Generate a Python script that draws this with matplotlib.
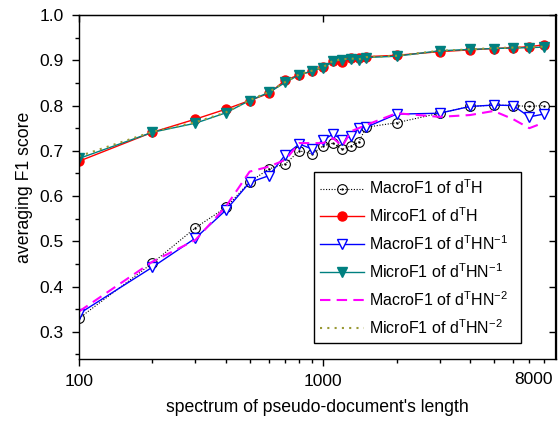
import numpy as np
import matplotlib
matplotlib.use("Agg")
import matplotlib.pyplot as plt
import matplotlib.transforms as mtransforms
from matplotlib.path import Path

plt.rcParams['font.family'] = ['Liberation Sans', 'DejaVu Sans']
plt.rcParams['mathtext.fontset'] = 'custom'
plt.rcParams['mathtext.rm'] = 'Liberation Sans'

# pseudo-document lengths
lengths = [100, 200, 300, 400, 500, 600, 700, 800, 900, 1000, 1100, 1200,
           1300, 1400, 1500, 2000, 3000, 4000, 5000, 6000, 7000, 8000]

macro_dth = [0.330, 0.452, 0.530, 0.575, 0.631, 0.660, 0.671, 0.700, 0.693, 0.711, 0.717,
             0.703, 0.711, 0.719, 0.752, 0.762, 0.783, 0.798, 0.801, 0.800, 0.798, 0.800]
micro_dth = [0.677, 0.741, 0.770, 0.792, 0.811, 0.827, 0.856, 0.868, 0.876, 0.886, 0.899,
             0.897, 0.904, 0.904, 0.908, 0.911, 0.919, 0.923, 0.926, 0.928, 0.930, 0.934]
macro_n1 = [0.340, 0.443, 0.507, 0.569, 0.630, 0.645, 0.691, 0.715, 0.704, 0.724, 0.737,
            0.724, 0.733, 0.750, 0.752, 0.781, 0.783, 0.798, 0.801, 0.800, 0.775, 0.781]
micro_n1 = [0.683, 0.741, 0.761, 0.784, 0.811, 0.829, 0.851, 0.868, 0.876, 0.884, 0.898,
            0.901, 0.903, 0.901, 0.906, 0.909, 0.921, 0.924, 0.926, 0.927, 0.928, 0.929]
macro_n2 = [0.345, 0.455, 0.503, 0.577, 0.654, 0.665, 0.680, 0.717, 0.717, 0.717, 0.728,
            0.710, 0.743, 0.750, 0.757, 0.783, 0.775, 0.779, 0.788, 0.770, 0.750, 0.762]
micro_n2 = [0.688, 0.742, 0.763, 0.785, 0.812, 0.830, 0.852, 0.869, 0.877, 0.885, 0.899,
            0.902, 0.904, 0.902, 0.907, 0.910, 0.921, 0.924, 0.927, 0.928, 0.929, 0.930]

# circle with a dot in the middle, like the Origin marker
dot_circle = Path.make_compound_path(Path.unit_circle(), Path.circle(radius=0.12))

fig = plt.figure(figsize=(5.58, 4.23), dpi=100)
ax = fig.add_axes([0.1416, 0.1513, 0.8548, 0.8132])

ax.plot(lengths, macro_dth, color='black', ls=(0, (1, 1.5)), lw=0.8,
        marker=dot_circle, ms=7, mfc='none', mec='black', mew=0.8,
        label=r'MacroF1 of d$^{\mathrm{T}}$H')
ax.plot(lengths, micro_dth, color='#ff0000', ls='-', lw=1.0,
        marker='o', ms=6.5, mfc='#ff0000', mec='#ff0000',
        label=r'MircoF1 of d$^{\mathrm{T}}$H')
ax.plot(lengths, macro_n1, color='#0000ff', ls='-', lw=1.0,
        marker='v', ms=7.5, mfc='white', mec='#0000ff', mew=1.0,
        label=r'MacroF1 of d$^{\mathrm{T}}$HN$^{\mathrm{-1}}$')
ax.plot(lengths, micro_n1, color='#008080', ls='-', lw=1.0,
        marker='v', ms=7.5, mfc='#008080', mec='#008080',
        label=r'MicroF1 of d$^{\mathrm{T}}$HN$^{\mathrm{-1}}$')
ax.plot(lengths, macro_n2, color='#ff00ff', ls=(0, (5, 3)), lw=1.5,
        label=r'MacroF1 of d$^{\mathrm{T}}$HN$^{\mathrm{-2}}$')
ax.plot(lengths, micro_n2, color='#999933', ls=(0, (1, 2.5)), lw=1.5,
        label=r'MicroF1 of d$^{\mathrm{T}}$HN$^{\mathrm{-2}}$')

ax.set_xscale('log')
ax.set_xlim(100, 9000)
ax.set_ylim(0.24, 1.0)

ax.set_xticks([100, 1000], labels=['100', '1000'])
minor_x = [200, 300, 400, 500, 600, 700, 800, 900,
           2000, 3000, 4000, 5000, 6000, 7000, 8000]
ax.set_xticks(minor_x, labels=['8000' if v == 8000 else '' for v in minor_x], minor=True)
ax.set_yticks(np.arange(0.3, 1.01, 0.1), labels=['0.3', '0.4', '0.5', '0.6', '0.7', '0.8', '0.9', '1.0'])
ax.set_yticks(np.arange(0.25, 1.0, 0.1), minor=True)

ax.tick_params(which='major', direction='out', length=5, width=1, labelsize=12.5, pad=6)
ax.tick_params(which='minor', direction='out', length=3, width=1, labelsize=12.5, pad=6)

# the 8000 label sits a bit left of its tick in the original
shift = mtransforms.ScaledTranslation(-10 / 100, 0, fig.dpi_scale_trans)
for lbl in ax.xaxis.get_minorticklabels():
    if lbl.get_text() == '8000':
        lbl.set_transform(lbl.get_transform() + shift)

for s in ax.spines.values():
    s.set_linewidth(1.0)
ax.spines['right'].set_linewidth(1.6)

top = ax.secondary_xaxis('top')
top.set_xticks([100, 1000], labels=['', ''])
top.set_xticks([], minor=True)
top.tick_params(direction='in', length=5, width=1)
right = ax.secondary_yaxis('right')
right.set_yticks(np.arange(0.3, 1.01, 0.1), labels=[''] * 8)
right.set_yticks([], minor=True)
right.tick_params(direction='in', length=5, width=1)

ax.set_xlabel("spectrum of pseudo-document's length", fontsize=12.7, labelpad=7)
ax.set_ylabel('averaging F1 score', fontsize=12.7, labelpad=5)

leg = ax.legend(loc='upper left', bbox_to_anchor=(0.4927, 0.061, 0.434, 0.4826),
                mode='expand', fontsize=11.5, frameon=True, fancybox=False,
                edgecolor='black', framealpha=1, borderaxespad=0,
                handlelength=2.75, handletextpad=0.3, labelspacing=0.58,
                borderpad=0.4)
leg.get_frame().set_linewidth(1.0)

fig.savefig('out.png', dpi=100)
